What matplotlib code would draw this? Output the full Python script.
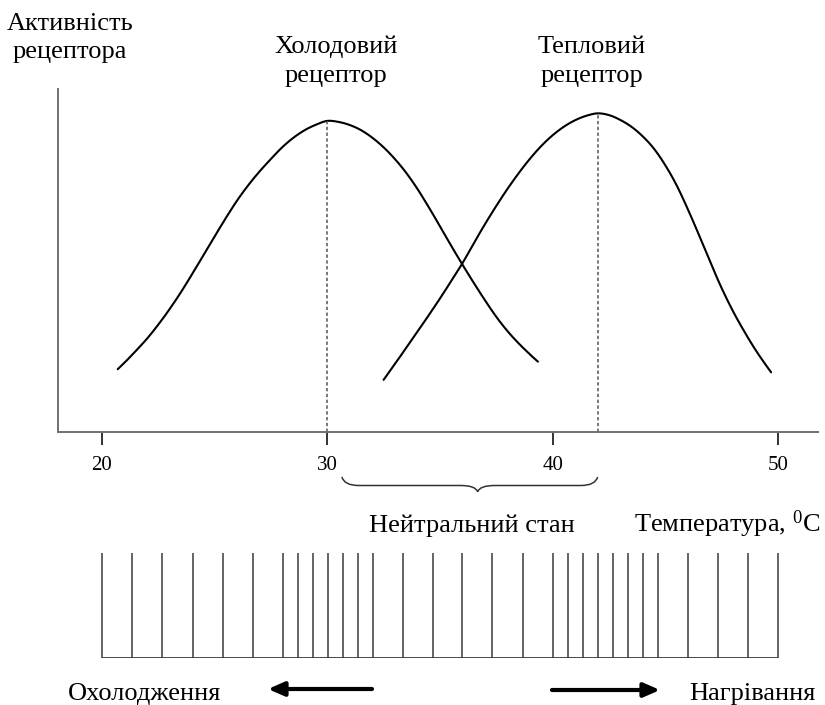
import numpy as np
import matplotlib
matplotlib.use("Agg")
import matplotlib.pyplot as plt
from matplotlib.path import Path
from matplotlib.patches import PathPatch

# ---- data -------------------------------------------------------------
# cold receptor activity vs temperature (deg C, relative units)
cold_temp = [20.7, 21.0, 21.5, 22.0, 22.5, 23.0, 23.5, 24.0, 24.5, 25.0, 25.5,
             26.0, 26.5, 27.0, 27.5, 28.0, 28.5, 29.0, 29.5, 30.0,
             30.5, 31.0, 31.5, 32.0, 32.5, 33.0, 33.5, 34.0, 34.5, 35.0,
             35.5, 36.0, 36.5, 37.0, 37.5, 38.0, 38.5, 39.0, 39.35]
cold_act = [18.3, 20.2, 23.6, 27.2, 31.3, 35.8, 40.7, 46.0, 51.5, 57.0, 62.4,
            67.5, 72.0, 76.0, 79.6, 83.0, 85.8, 88.0, 89.6, 90.7,
            90.4, 89.5, 88.0, 85.8, 83.0, 79.6, 75.6, 70.9, 65.6, 60.0,
            54.3, 48.8, 43.5, 38.4, 33.6, 29.4, 25.8, 22.6, 20.5]

# warm receptor activity vs temperature
warm_temp = [32.5, 33.0, 33.5, 34.0, 34.5, 35.0, 35.5, 36.0, 36.5, 37.0,
             37.5, 38.0, 38.5, 39.0, 39.5, 40.0, 40.5, 41.0, 41.5, 42.0,
             42.5, 43.0, 43.5, 44.0, 44.5, 45.0, 45.5, 46.0, 46.5, 47.0,
             47.5, 48.0, 48.5, 49.0, 49.5, 49.7]
warm_act = [15.2, 19.8, 24.5, 29.2, 34.0, 38.9, 44.0, 49.2, 55.0, 60.6,
            65.9, 70.9, 75.5, 79.7, 83.4, 86.5, 89.0, 90.9, 92.2, 92.9,
            92.4, 91.0, 89.0, 86.2, 82.6, 77.8, 72.0, 65.0, 57.4, 49.5,
            42.0, 35.3, 29.4, 24.0, 19.2, 17.4]

temp_ticks = [20, 30, 40, 50]
neutral_zone = [30.65, 42.0]

# impulse marks of the discharge strip below the graph
strip_temp = [20.0, 21.33, 22.66, 24.04, 25.37, 26.70, 28.03, 28.70, 29.37,
              30.03, 30.70, 31.36, 32.03, 33.36, 34.69, 35.98, 37.31, 38.69,
              40.02, 40.68, 41.35, 42.02, 42.68, 43.35, 44.01, 44.68, 46.01,
              47.34, 48.67, 50.0]

# ---- helpers ----------------------------------------------------------
W, H = 825, 705
SERIF = "Liberation Serif"
plt.rcParams["font.family"] = [SERIF, "DejaVu Serif"]
plt.rcParams["mathtext.fontset"] = "custom"
plt.rcParams["mathtext.rm"] = SERIF


def box(left, top, right, bottom):
    return [left / W, 1 - bottom / H, (right - left) / W, (bottom - top) / H]


def smooth(xs, ys, n=16):
    p = np.column_stack([xs, ys]).astype(float)
    p = np.vstack([2 * p[0] - p[1], p, 2 * p[-1] - p[-2]])
    t = np.linspace(0, 1, n, endpoint=False)[:, None]
    out = []
    for i in range(len(p) - 3):
        p0, p1, p2, p3 = p[i], p[i + 1], p[i + 2], p[i + 3]
        seg = 0.5 * (2 * p1 + (-p0 + p2) * t
                     + (2 * p0 - 5 * p1 + 4 * p2 - p3) * t ** 2
                     + (-p0 + 3 * p1 - 3 * p2 + p3) * t ** 3)
        out.append(seg)
    out.append(p[-2][None, :])
    out = np.vstack(out)
    return out[:, 0], out[:, 1]


# ---- figure -----------------------------------------------------------
fig = plt.figure(figsize=(W / 100, H / 100), dpi=100)
fig.patch.set_facecolor("white")

xlim = (18.05, 51.78)
ax = fig.add_axes(box(58, 89, 818, 432))
ax.set_xlim(*xlim)
ax.set_ylim(0, 100)
ax.patch.set_alpha(0)

for tx, ay in ((cold_temp, cold_act), (warm_temp, warm_act)):
    sx, sy = smooth(tx, ay)
    ax.plot(sx, sy, color="black", lw=1.5, solid_capstyle="round")
    k = int(np.argmax(ay))
    ax.vlines(tx[k], 0, ay[k], colors="#555555", lw=1.1,
              linestyles=(0, (2.2, 1.6)))

for side in ("top", "right"):
    ax.spines[side].set_visible(False)
for side in ("left", "bottom"):
    ax.spines[side].set_color("#707070")
    ax.spines[side].set_linewidth(1.4)
ax.set_yticks([])
ax.set_xticks(temp_ticks)
ax.set_xticklabels([str(v) for v in temp_ticks])
ax.tick_params(axis="x", direction="out", length=9.5, width=1.4,
               color="#333333", pad=8, labelsize=15)

# curly brace under the neutral zone
x0, x1 = neutral_zone
xm = (x0 + x1) / 2 + 0.35
ye, ymid, ytip = -13.1, -15.6, -17.4
d = 0.75
verts = [(x0, ye), (x0 + 0.1, ymid), (x0 + d, ymid),
         (xm - d, ymid),
         (xm - 0.1, ymid), (xm, ytip),
         (xm + 0.1, ymid), (xm + d, ymid),
         (x1 - d, ymid),
         (x1 - 0.1, ymid), (x1, ye)]
codes = [Path.MOVETO, Path.CURVE3, Path.CURVE3,
         Path.LINETO,
         Path.CURVE3, Path.CURVE3,
         Path.CURVE3, Path.CURVE3,
         Path.LINETO,
         Path.CURVE3, Path.CURVE3]
ax.add_patch(PathPatch(Path(verts, codes), fill=False, lw=1.1,
                       edgecolor="#333333", clip_on=False))

# discharge strip
st = fig.add_axes(box(58, 553, 818, 658))
st.set_xlim(*xlim)
st.set_ylim(0, 1)
st.axis("off")
st.vlines(strip_temp, 0, 1, colors="#3a3a3a", lw=1.1)
st.hlines(0, strip_temp[0], strip_temp[-1], colors="#3a3a3a", lw=1.3)

# labels and arrows
ov = fig.add_axes([0, 0, 1, 1])
ov.set_xlim(0, W)
ov.set_ylim(H, 0)
ov.axis("off")
ov.patch.set_alpha(0)

fs = 19
def label(x, y, s, ha="center"):
    ov.text(x, y, s, ha=ha, va="baseline", fontsize=fs, color="black")

label(70, 30, "Активність")
label(70, 58, "рецептора")
label(336, 53, "Холодовий")
label(336, 82, "рецептор")
label(592, 53, "Тепловий")
label(592, 82, "рецептор")
label(472, 532, "Нейтральний стан")
label(820, 532, r"Температура, $\mathregular{^0}$C", ha="right")
label(145, 700, "Охолодження")
label(752, 700, "Нагрівання")

arrow = dict(arrowstyle="-|>,head_length=0.8,head_width=0.35", lw=3,
             color="black", shrinkA=0, shrinkB=0, mutation_scale=12)
ov.annotate("", xy=(268, 689), xytext=(372, 689), arrowprops=arrow)
ov.annotate("", xy=(660, 690), xytext=(552, 690), arrowprops=arrow)

fig.savefig("out.png", dpi=100, facecolor="white")
